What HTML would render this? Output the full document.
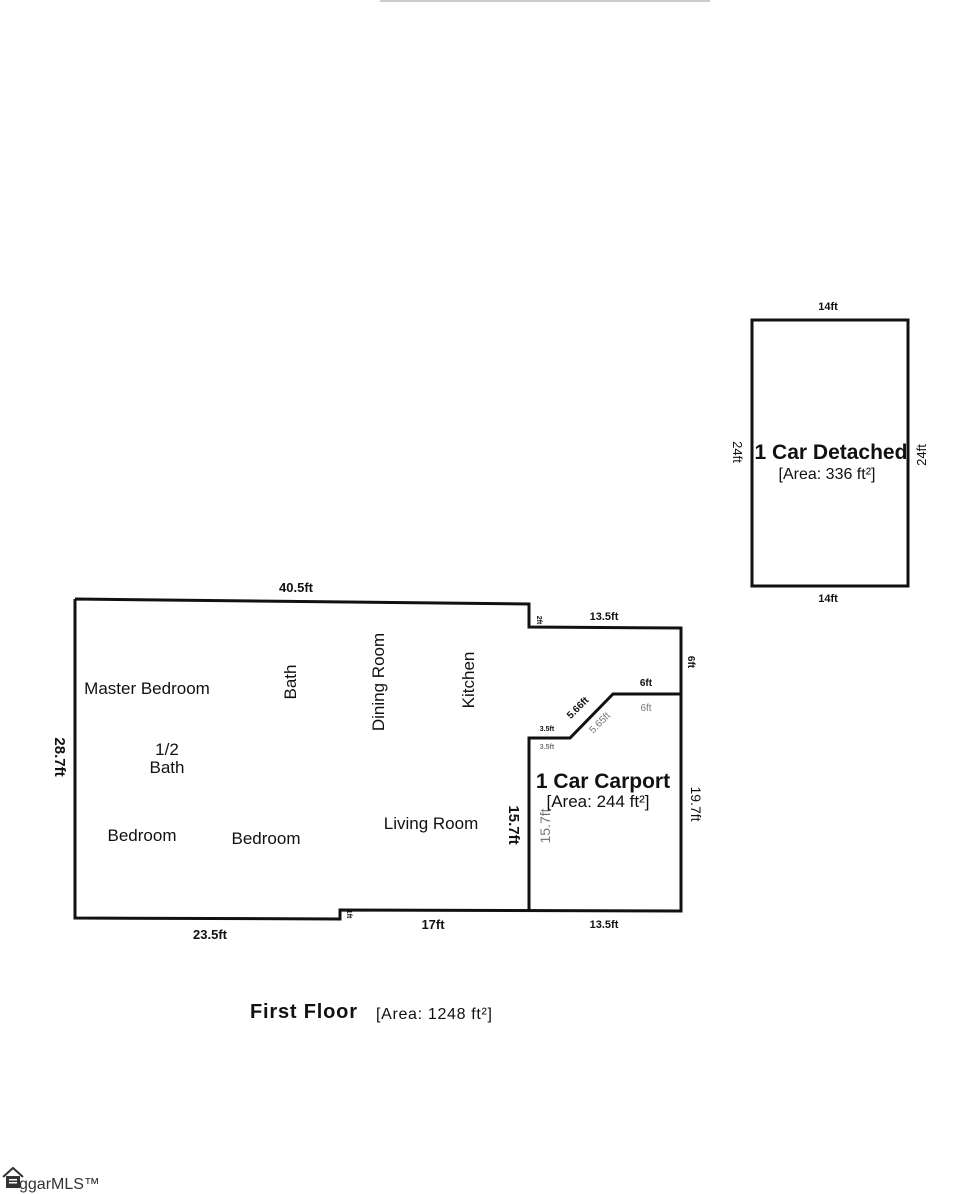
<!DOCTYPE html>
<html><head><meta charset="utf-8"><style>
body{margin:0;background:#fff;width:961px;height:1194px;overflow:hidden}
svg{display:block}
text{font-family:"Liberation Sans",sans-serif;fill:#111}
</style></head><body>
<svg width="961" height="1194" viewBox="0 0 961 1194">
<line x1="380" y1="1" x2="710" y2="1" stroke="#ccc" stroke-width="2"/>
<g fill="none" stroke="#111" stroke-width="3">
<polyline points="75,599 529,604 529,627 681,628 681,911 340,910 340,919 75,918 75,599"/>
<polyline points="529,911 529,738 570,738 613,694 681,694"/>
<rect x="752" y="320" width="156" height="266"/>
</g>
<g font-size="12" font-weight="bold" text-anchor="middle">
<text x="296" y="592" font-size="13">40.5ft</text>
<text x="604" y="620" font-size="11">13.5ft</text>
<text x="210" y="939" font-size="13">23.5ft</text>
<text x="433" y="929" font-size="13">17ft</text>
<text x="604" y="928" font-size="11">13.5ft</text>
<text x="828" y="310" font-size="11">14ft</text>
<text x="828" y="602" font-size="11">14ft</text>
<text x="646" y="686" font-size="10">6ft</text>
<text x="646" y="711" font-size="10" style="fill:#777;font-weight:normal">6ft</text>
<text x="547" y="731" font-size="7">3.5ft</text>
<text x="547" y="749" font-size="7" style="fill:#777">3.5ft</text>
<text transform="translate(580,710) rotate(-45)" font-size="10">5.66ft</text>
<text transform="translate(602,725) rotate(-45)" font-size="10" style="fill:#777;font-weight:normal">5.65ft</text>
<text transform="translate(55,757) rotate(90)" font-size="15">28.7ft</text>
<text transform="translate(509,825) rotate(90)" font-size="15">15.7ft</text>
<text transform="translate(691,804) rotate(90)" font-size="14" style="font-weight:normal">19.7ft</text>
<text transform="translate(688,662) rotate(90)" font-size="10">6ft</text>
<text transform="translate(733,452) rotate(90)" font-size="13" style="font-weight:normal">24ft</text>
<text transform="translate(926,455) rotate(-90)" font-size="13" style="font-weight:normal">24ft</text>
<text transform="translate(537,620) rotate(90)" font-size="7">2ft</text>
<text transform="translate(347,914) rotate(90)" font-size="7">1ft</text>
<text transform="translate(550,826) rotate(-90)" font-size="14" style="fill:#777;font-weight:normal">15.7ft</text>
</g>
<g font-size="17" text-anchor="middle">
<text x="147" y="694">Master Bedroom</text>
<text x="167" y="755">1/2</text>
<text x="167" y="773">Bath</text>
<text x="142" y="841">Bedroom</text>
<text x="266" y="844">Bedroom</text>
<text x="431" y="829">Living Room</text>
<text transform="translate(296,682) rotate(-90)">Bath</text>
<text transform="translate(384,682) rotate(-90)">Dining Room</text>
<text transform="translate(474,680) rotate(-90)">Kitchen</text>
<text x="603" y="788" font-size="21" font-weight="bold">1 Car Carport</text>
<text x="598" y="807" font-size="17">[Area: 244 ft²]</text>
<text x="831" y="459" font-size="21" font-weight="bold">1 Car Detached</text>
<text x="827" y="479" font-size="16">[Area: 336 ft²]</text>
</g>
<text x="250" y="1018" font-size="20" font-weight="bold" textLength="107">First Floor</text>
<text x="376" y="1019" font-size="16" textLength="116">[Area: 1248 ft²]</text>
<g transform="translate(2,1166)">
<path d="M1,11 L11,2 L21,11" fill="none" stroke="#333" stroke-width="2"/>
<rect x="4" y="10" width="14" height="12" fill="#333"/>
<rect x="7" y="13" width="8" height="1.5" fill="#fff"/><rect x="7" y="16" width="8" height="1.5" fill="#fff"/>
<text x="17" y="23" font-size="16" style="fill:#333">ggarMLS™</text>
</g>
</svg>
</body></html>
